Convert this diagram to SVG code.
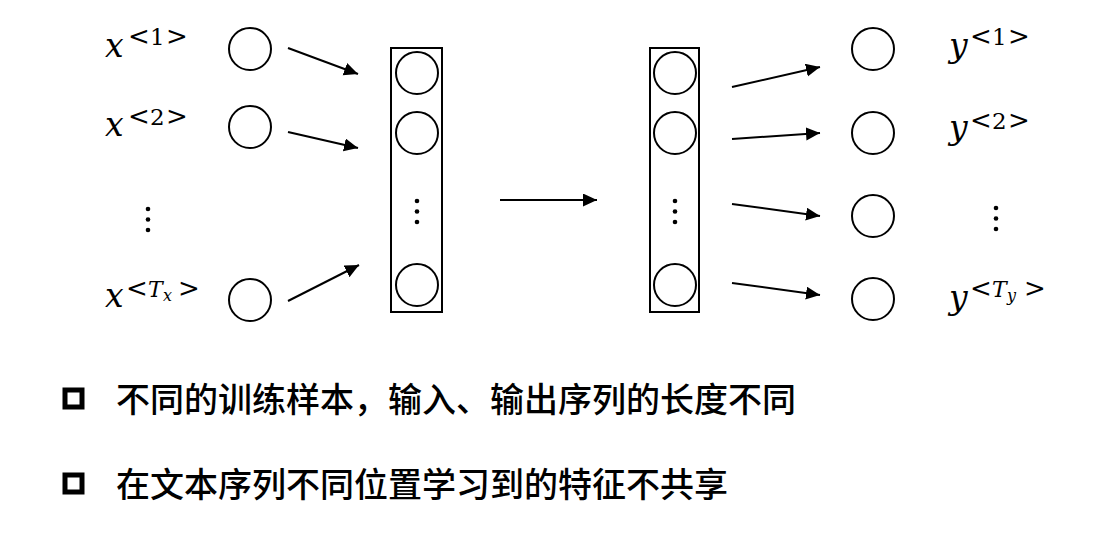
<svg xmlns="http://www.w3.org/2000/svg" width="1096" height="539" viewBox="0 0 1096 539">
<defs>
<style>
.c{fill:none;stroke:#000;stroke-width:2}
.box{fill:none;stroke:#000;stroke-width:2}
.dot{fill:#000}
.ln{fill:none;stroke:#000;stroke-width:2;marker-end:url(#ah)}
.m{font-family:"DejaVu Serif",serif;font-style:italic;font-size:33px;fill:#000}
.s{font-family:"DejaVu Serif",serif;font-size:26px;fill:#000}
.d{font-size:23px}
.si{font-family:"DejaVu Serif",serif;font-style:italic;font-size:22px}
.ss{font-family:"DejaVu Serif",serif;font-style:italic;font-size:16px}
.t{font-family:"Noto Sans CJK SC","Noto Sans",sans-serif;font-size:34px;font-weight:500;fill:#000}
.cb{fill:none;stroke:#000;stroke-width:5}
</style>
<marker id="ah" markerUnits="userSpaceOnUse" markerWidth="16" markerHeight="14" refX="14" refY="6.5" orient="auto">
<path d="M0,0 L14,6.5 L0,13 z" fill="#000"/>
</marker>
</defs>
<rect width="1096" height="539" fill="#fff"/>

<g id="x1">
<text class="m" x="105" y="57">x</text>
<text class="s" y="45"><tspan x="128">&lt;</tspan><tspan class="d" x="150">1</tspan><tspan x="166">&gt;</tspan></text>
<circle class="c" cx="250" cy="49" r="21"/>
</g>
<g id="x2">
<text class="m" x="105" y="136">x</text>
<text class="s" y="125"><tspan x="128">&lt;</tspan><tspan class="d" x="150">2</tspan><tspan x="166">&gt;</tspan></text>
<circle class="c" cx="250" cy="127" r="21"/>
</g>
<g id="xdots">
<circle class="dot" cx="148" cy="209" r="2.3"/>
<circle class="dot" cx="148" cy="219.5" r="2.3"/>
<circle class="dot" cx="148" cy="230" r="2.3"/>
</g>
<g id="xT">
<text class="m" x="105" y="307">x</text>
<text class="s" y="297"><tspan x="126">&lt;</tspan><tspan class="si" x="148">T</tspan><tspan class="ss" x="163" dy="4">x</tspan><tspan x="178" dy="-4">&gt;</tspan></text>
<circle class="c" cx="250" cy="300" r="21"/>
</g>

<g id="encoder">
<rect class="box" x="391" y="48" width="51" height="264"/>
<circle class="c" cx="417" cy="73" r="21"/>
<circle class="c" cx="417" cy="133" r="21"/>
<circle class="dot" cx="417" cy="201" r="2.3"/>
<circle class="dot" cx="417" cy="211.5" r="2.3"/>
<circle class="dot" cx="417" cy="222" r="2.3"/>
<circle class="c" cx="417" cy="285" r="21"/>
</g>

<g id="decoder">
<rect class="box" x="650" y="48" width="49" height="264"/>
<circle class="c" cx="675" cy="73" r="21"/>
<circle class="c" cx="675" cy="133" r="21"/>
<circle class="dot" cx="675" cy="201" r="2.3"/>
<circle class="dot" cx="675" cy="211.5" r="2.3"/>
<circle class="dot" cx="675" cy="222" r="2.3"/>
<circle class="c" cx="675" cy="285" r="21"/>
</g>

<g id="y1">
<circle class="c" cx="873" cy="49" r="21"/>
<text class="m" x="949" y="57">y</text>
<text class="s" y="45"><tspan x="970">&lt;</tspan><tspan class="d" x="992">1</tspan><tspan x="1008">&gt;</tspan></text>
</g>
<g id="y2">
<circle class="c" cx="873" cy="133" r="21"/>
<text class="m" x="949" y="139">y</text>
<text class="s" y="129"><tspan x="970">&lt;</tspan><tspan class="d" x="992">2</tspan><tspan x="1008">&gt;</tspan></text>
</g>
<g id="y3">
<circle class="c" cx="873" cy="216" r="21"/>
<circle class="dot" cx="996" cy="208" r="2.3"/>
<circle class="dot" cx="996" cy="218.5" r="2.3"/>
<circle class="dot" cx="996" cy="229" r="2.3"/>
</g>
<g id="yT">
<circle class="c" cx="873" cy="299" r="21"/>
<text class="m" x="949" y="309">y</text>
<text class="s" y="297"><tspan x="970">&lt;</tspan><tspan class="si" x="992">T</tspan><tspan class="ss" x="1007" dy="4">y</tspan><tspan x="1024" dy="-4">&gt;</tspan></text>
</g>

<g id="connectors">
<line class="ln" x1="288" y1="48" x2="358" y2="74"/>
<line class="ln" x1="288" y1="132" x2="358" y2="148"/>
<line class="ln" x1="288" y1="301" x2="359" y2="265"/>
<line class="ln" x1="500" y1="200" x2="597" y2="200"/>
<line class="ln" x1="732" y1="87" x2="820" y2="67"/>
<line class="ln" x1="732" y1="139" x2="820" y2="133"/>
<line class="ln" x1="732" y1="204" x2="820" y2="216"/>
<line class="ln" x1="732" y1="283" x2="820" y2="295"/>
</g>

<g id="bullet1">
<rect class="cb" x="65" y="390" width="17" height="17"/>
<text class="t" x="116" y="412">不同的训练样本，输入、输出序列的长度不同</text>
</g>
<g id="bullet2">
<rect class="cb" x="65" y="475" width="17" height="17"/>
<text class="t" x="116" y="497">在文本序列不同位置学习到的特征不共享</text>
</g>
</svg>
